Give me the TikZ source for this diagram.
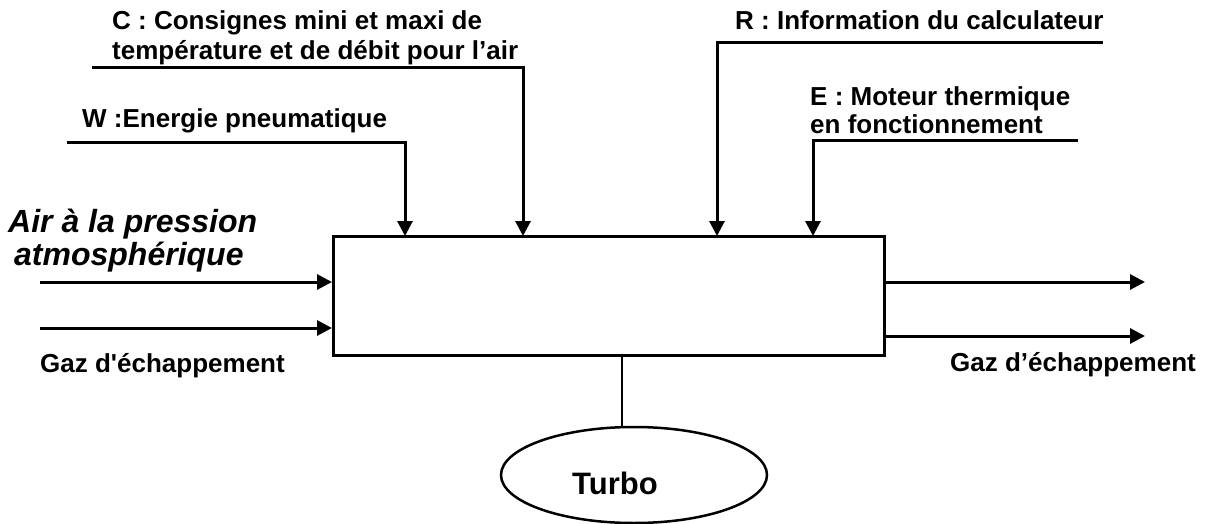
\documentclass[tikz,border=0pt]{standalone}
\usepackage{fontspec}
\newfontfamily\lsans{Liberation Sans}
\usetikzlibrary{arrows.meta,shapes.geometric}
\begin{document}
\begin{tikzpicture}[x=1pt,y=-1pt,
  lbl/.style={anchor=base west,inner sep=0pt,font=\lsans\fontsize{26}{30}\selectfont\bfseries},
  ital/.style={anchor=base west,inner sep=0pt,font=\lsans\fontsize{32}{36}\selectfont\bfseries\itshape},
  arr/.style={line width=3pt,-{Triangle[length=15pt,width=15pt]}},
  boxst/.style={draw,line width=3pt,inner sep=0pt,minimum width=551pt,minimum height=119pt}]
\useasboundingbox (0,0) rectangle (1220,524);
% main box
\node[boxst] (box) at (608.5,295.5) {};
% turbo
\node[draw,ellipse,line width=2.5pt,minimum width=266pt,minimum height=96pt] (turbo) at (634,475) {};
\node[anchor=base west,inner sep=0pt,font=\lsans\fontsize{31}{36}\selectfont\bfseries] (turbolbl) at (572,494) {Turbo};
\coordinate (tA) at (622,355);
\draw[line width=2.5pt] (tA) -- (tA |- turbo.north);
% top inputs
\coordinate (wS) at (67,142);  \coordinate (wE) at (405,236);
\coordinate (cS) at (92,68);   \coordinate (cE) at (523,236);
\coordinate (rS) at (1103,43); \coordinate (rE) at (717,236);
\coordinate (eS) at (1078,140);\coordinate (eE) at (813,236);
\draw[arr] (wS) -| (wE);
\draw[arr] (cS) -| (cE);
\draw[arr] (rS) -| (rE);
\draw[arr] (eS) -| (eE);
% left inputs
\coordinate (l1) at (40,282); \coordinate (l1e) at (332,282);
\coordinate (l2) at (40,328); \coordinate (l2e) at (332,328);
\draw[arr] (l1) -- (l1e);
\draw[arr] (l2) -- (l2e);
% right outputs
\coordinate (r1) at (884,282); \coordinate (r1e) at (1145,282);
\coordinate (r2) at (884,336); \coordinate (r2e) at (1145,336);
\draw[arr] (r1) -- (r1e);
\draw[arr] (r2) -- (r2e);
% labels
\node[lbl] (c1) at (112,30) {C : Consignes mini et maxi de};
\node[lbl] (c2) at (112,60) {température et de débit pour l’air};
\node[lbl] (w1) at (82,128) {W :Energie pneumatique};
\node[lbl] (r1t) at (735,30) {R : Information du calculateur};
\node[lbl] (e1) at (810,106) {E : Moteur thermique};
\node[lbl] (e2) at (810,134) {en fonctionnement};
\node[ital] (a1) at (8,232) {Air à la pression};
\node[ital] (a2) at (14,265) {atmosphérique};
\node[lbl] (g1) at (40,372) {Gaz d'échappement};
\node[lbl] (g2) at (950,371) {Gaz d’échappement};
\end{tikzpicture}
\end{document}
